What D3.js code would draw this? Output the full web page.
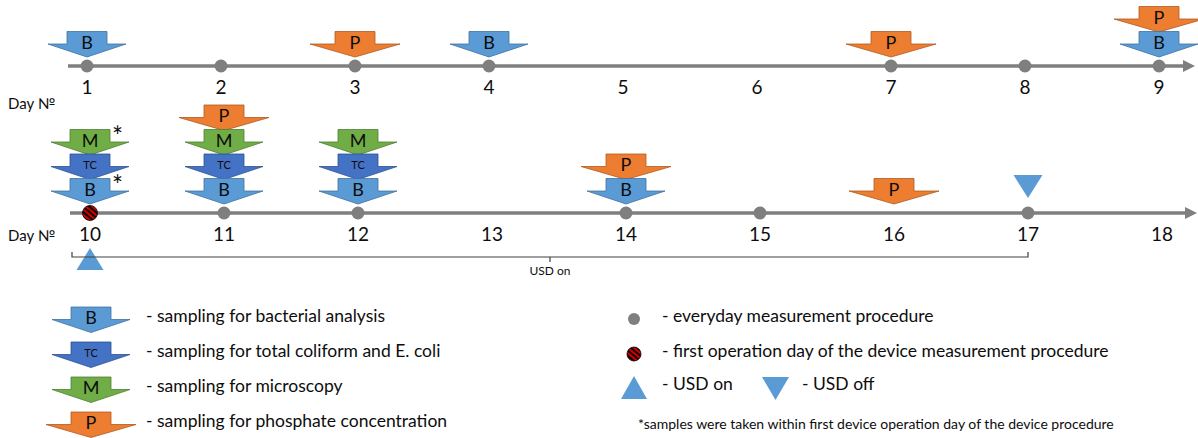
<!DOCTYPE html>
<html>
<head>
<meta charset="utf-8">
<script src="https://cdn.jsdelivr.net/npm/d3@7"></script>
<style>
  html, body { margin: 0; padding: 0; background: #fff; }
  svg { display: block; font-family: Lato, "Open Sans", sans-serif; }
</style>
</head>
<body>
<div id="chart"></div>
<script>
// Day numbers on the two timelines
const row1Days = [1, 2, 3, 4, 5, 6, 7, 8, 9];
const row2Days = [10, 11, 12, 13, 14, 15, 16, 17, 18];

// Days with the everyday measurement procedure (grey dots)
const measurementDays = [1, 2, 3, 4, 7, 8, 9, 11, 12, 14, 15, 17];
const firstOperationDay = 10;

// Sampling schedule per sample type (stacked bottom-up in this order)
const sampleTypes = ['B', 'TC', 'M', 'P'];
const bacterialDays = [1, 4, 9, 10, 11, 12, 14];
const coliformDays = [10, 11, 12];
const microscopyDays = [10, 11, 12];
const phosphateDays = [3, 7, 9, 11, 14, 16];

// Samples marked with an asterisk
const asteriskDays = [10, 10];
const asteriskTypes = ['B', 'M'];

const usdOnDay = 10;
const usdOffDay = 17;

const legendTypes = ['B', 'TC', 'M', 'P'];
const legendLabels = [
  '- sampling for bacterial analysis',
  '- sampling for total coliform and E. coli',
  '- sampling for microscopy',
  '- sampling for phosphate concentration'
];
const footnote = '*samples were taken within first device operation day of the device procedure';

const W = 1198, H = 438;
const fill = { B: '#5b9bd5', TC: '#4472c4', M: '#70ad47', P: '#ed7d31' };
const edge = { B: '#41719c', TC: '#2f528f', M: '#507e32', P: '#ae5a21' };
const grey = '#7f7f7f';
const ink = '#0d0d0d';

const svg = d3.select('#chart').append('svg')
  .attr('width', W).attr('height', H);

// hatched pattern for the first operation day
const pat = svg.append('defs').append('pattern')
  .attr('id', 'hatch')
  .attr('patternUnits', 'userSpaceOnUse')
  .attr('width', 4).attr('height', 4)
  .attr('patternTransform', 'rotate(40)');
pat.append('rect').attr('width', 4).attr('height', 4).attr('fill', '#d00000');
pat.append('rect').attr('width', 4).attr('height', 1.8).attr('fill', '#000');

const rows = [
  { days: row1Days, y: 66, x: d3.scaleLinear().domain([1, 9]).range([87, 1159]), start: 68, end: 1195, step: 25 },
  { days: row2Days, y: 213, x: d3.scaleLinear().domain([10, 18]).range([90, 1162]), start: 70, end: 1197, step: 24.5 }
];
const rowOf = d => rows[d <= 9 ? 0 : 1];

// arrow shape, origin at top centre of the box
function arrowPath(type) {
  const wing = type === 'P' ? 45 : 39;
  return `M-20,0 L20,0 L20,12.5 L${wing},12.5 L0,25.5 L${-wing},12.5 L-20,12.5 Z`;
}

function drawArrow(g, type, cx, top) {
  const a = g.append('g').attr('transform', `translate(${cx},${top})`);
  a.append('path').attr('d', arrowPath(type))
    .attr('fill', fill[type]).attr('stroke', edge[type]).attr('stroke-width', 0.8);
  a.append('text')
    .attr('x', 0).attr('y', type === 'TC' ? 15 : 17)
    .attr('text-anchor', 'middle')
    .style('font-size', type === 'TC' ? '11px' : '18px')
    .style('fill', ink)
    .text(type);
}

// timelines
rows.forEach(r => {
  svg.append('line')
    .attr('x1', r.start).attr('x2', r.end - 10)
    .attr('y1', r.y).attr('y2', r.y)
    .attr('stroke', grey).attr('stroke-width', 3.5);
  svg.append('path')
    .attr('d', `M${r.end - 12},${r.y - 6} L${r.end},${r.y} L${r.end - 12},${r.y + 6} Z`)
    .attr('fill', grey);

  svg.selectAll(null).data(r.days).enter().append('text')
    .attr('x', d => r.x(d))
    .attr('y', r.y + 28)
    .attr('text-anchor', 'middle')
    .style('font-size', '19px')
    .style('fill', ink)
    .text(d => d);
});

svg.append('text').attr('x', 8).attr('y', 109).style('font-size', '15px').style('fill', ink).text('Day №');
svg.append('text').attr('x', 8).attr('y', 241).style('font-size', '15px').style('fill', ink).text('Day №');

// measurement dots
svg.selectAll('.dot').data(measurementDays).enter().append('circle')
  .attr('class', 'dot')
  .attr('cx', d => rowOf(d).x(d))
  .attr('cy', d => rowOf(d).y)
  .attr('r', 6.5)
  .attr('fill', grey);

svg.append('circle')
  .attr('cx', rowOf(firstOperationDay).x(firstOperationDay))
  .attr('cy', rowOf(firstOperationDay).y)
  .attr('r', 7.5)
  .attr('fill', 'url(#hatch)')
  .attr('stroke', '#000').attr('stroke-width', 0.8);

// sampling arrows, stacked per day
const byType = { B: bacterialDays, TC: coliformDays, M: microscopyDays, P: phosphateDays };
const samples = [];
const levelCount = {};
sampleTypes.forEach(t => {
  byType[t].forEach(d => {
    const lvl = levelCount[d] || 0;
    levelCount[d] = lvl + 1;
    samples.push({ day: d, type: t, level: lvl });
  });
});
const arrowLayer = svg.append('g');
samples.sort((a, b) => b.level - a.level).forEach(s => {
  const r = rowOf(s.day);
  drawArrow(arrowLayer, s.type, r.x(s.day), r.y - 34.5 - s.level * r.step);
});

// asterisks
asteriskDays.forEach((d, i) => {
  const s = samples.find(v => v.day === d && v.type === asteriskTypes[i]);
  const r = rowOf(d);
  svg.append('text')
    .attr('x', r.x(d) + 22)
    .attr('y', r.y - 34.5 - s.level * r.step + 16)
    .style('font-size', '26px')
    .style('fill', ink)
    .text('*');
});

// USD on / off markers
const rOn = rowOf(usdOnDay), rOff = rowOf(usdOffDay);
const xOn = rOn.x(usdOnDay), xOff = rOff.x(usdOffDay);
svg.append('path')
  .attr('d', `M${xOn},${rOn.y + 35} L${xOn + 13.5},${rOn.y + 57} L${xOn - 13.5},${rOn.y + 57} Z`)
  .attr('fill', fill.B);
svg.append('path')
  .attr('d', `M${xOff - 14.5},${rOff.y - 38} L${xOff + 14.5},${rOff.y - 38} L${xOff},${rOff.y - 15} Z`)
  .attr('fill', fill.B);

// USD on bracket
const by = rOn.y + 44;
const bx1 = xOn - 18, bx2 = xOff, bxm = (bx1 + bx2) / 2;
svg.append('path')
  .attr('d', `M${bx1},${by - 5} L${bx1},${by} L${bx2},${by} L${bx2},${by - 5} M${bxm},${by} L${bxm},${by + 5}`)
  .attr('fill', 'none').attr('stroke', '#404040').attr('stroke-width', 1.2);
svg.append('text')
  .attr('x', bxm).attr('y', by + 18)
  .attr('text-anchor', 'middle')
  .style('font-size', '12px').style('fill', ink)
  .text('USD on');

// legend, left column
const legY = d3.scalePoint().domain(legendTypes).range([307, 412]);
legendTypes.forEach((t, i) => {
  drawArrow(svg, t, 91, legY(t));
  svg.append('text')
    .attr('x', 146).attr('y', legY(t) + 15)
    .style('font-size', '17.5px').style('fill', ink)
    .text(legendLabels[i]);
});

// legend, right column
svg.append('circle').attr('cx', 634).attr('cy', 319).attr('r', 6).attr('fill', grey);
svg.append('text').attr('x', 662).attr('y', 322).style('font-size', '17.5px').style('fill', ink)
  .text('- everyday measurement procedure');

svg.append('circle').attr('cx', 634).attr('cy', 354).attr('r', 7)
  .attr('fill', 'url(#hatch)').attr('stroke', '#000').attr('stroke-width', 0.8);
svg.append('text').attr('x', 662).attr('y', 357).style('font-size', '17.5px').style('fill', ink)
  .text('- first operation day of the device measurement procedure');

svg.append('path').attr('d', 'M634,376 L647,399 L621,399 Z').attr('fill', fill.B);
svg.append('text').attr('x', 662).attr('y', 390).style('font-size', '17.5px').style('fill', ink)
  .text('- USD on');
svg.append('path').attr('d', 'M762,377 L789,377 L775.5,400 Z').attr('fill', fill.B);
svg.append('text').attr('x', 802).attr('y', 390).style('font-size', '17.5px').style('fill', ink)
  .text('- USD off');

svg.append('text').attr('x', 638).attr('y', 429).style('font-size', '14px').style('fill', ink)
  .text(footnote);
</script>
</body>
</html>
